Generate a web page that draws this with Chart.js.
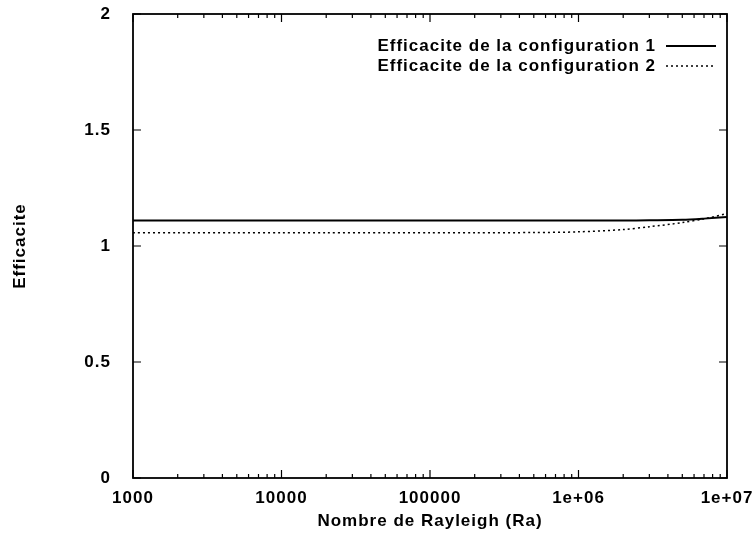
<!DOCTYPE html>
<html>
<head>
<meta charset="utf-8">
<script src="https://cdn.jsdelivr.net/npm/chart.js@4.4.0/dist/chart.umd.min.js"></script>
<style>
  html, body { margin: 0; padding: 0; background: #fff; }
</style>
</head>
<body>
<canvas id="myChart" width="755" height="536"></canvas>
<script>
// Nombre de Rayleigh (x) and efficacite for both configurations
const rayleigh = [1000, 2000, 5000, 10000, 20000, 50000, 100000, 200000, 500000, 1e6, 2e6, 3e6, 5e6, 7e6, 1e7];
const efficacite1 = [1.11, 1.11, 1.11, 1.11, 1.11, 1.11, 1.11, 1.11, 1.11, 1.11, 1.11, 1.111, 1.113, 1.118, 1.125];
const efficacite2 = [1.057, 1.057, 1.057, 1.057, 1.057, 1.057, 1.057, 1.057, 1.058, 1.061, 1.071, 1.083, 1.101, 1.117, 1.14];
const seriesLabels = ["Efficacite de la configuration 1", "Efficacite de la configuration 2"];
const xTicks = [1000, 10000, 100000, 1e6, 1e7];
const xTickLabels = ["1000", "10000", "100000", "1e+06", "1e+07"];
const yTicks = [0, 0.5, 1, 1.5, 2];

const FONT = "'Liberation Sans', Arial, Helvetica, sans-serif";
const fontOpts = { family: FONT, size: 17, weight: 'bold' };

function noOverflow(scale) {
    scale.paddingTop = 0; scale.paddingBottom = 0;
    scale.paddingLeft = 0; scale.paddingRight = 0;
}

// the scanned text is wide, so spread the letters a bit
const spacing = {
    id: 'spacing',
    beforeUpdate(chart) { chart.ctx.letterSpacing = '1px'; },
    beforeDraw(chart) { chart.ctx.letterSpacing = '1px'; }
};

// frame, inward ticks and legend, like the gnuplot output
const gnuplotBits = {
    id: 'gnuplotBits',
    afterDraw(chart) {
        const ctx = chart.ctx;
        const a = chart.chartArea;
        const xs = chart.scales.x, ys = chart.scales.y;
        ctx.save();
        ctx.strokeStyle = '#000';
        ctx.lineWidth = 1.8;
        ctx.strokeRect(a.left, a.top, a.right - a.left, a.bottom - a.top);

        ctx.lineWidth = 1.2;
        ctx.beginPath();
        for (let d = 1000; d <= 1e7; d *= 10) {
            for (let m = 1; m < 10; m++) {
                const v = d * m;
                if (v > 1e7) break;
                const px = xs.getPixelForValue(v);
                const len = m === 1 ? 8 : 4;
                ctx.moveTo(px, a.bottom); ctx.lineTo(px, a.bottom - len);
                ctx.moveTo(px, a.top); ctx.lineTo(px, a.top + len);
            }
        }
        yTicks.forEach(v => {
            const py = ys.getPixelForValue(v);
            ctx.moveTo(a.left, py); ctx.lineTo(a.left + 8, py);
            ctx.moveTo(a.right, py); ctx.lineTo(a.right - 8, py);
        });
        ctx.stroke();

        // legend: text right aligned, line sample to the right
        ctx.font = 'bold 17px ' + FONT;
        ctx.fillStyle = '#000';
        ctx.textAlign = 'right';
        ctx.textBaseline = 'middle';
        const textRight = 656, sx0 = 666, sx1 = 716;
        chart.data.datasets.forEach((ds, i) => {
            const y = 46 + i * 20;
            ctx.fillText(ds.label, textRight, y);
            ctx.beginPath();
            ctx.lineWidth = ds.borderWidth;
            ctx.setLineDash(ds.borderDash || []);
            ctx.moveTo(sx0, y); ctx.lineTo(sx1, y);
            ctx.stroke();
            ctx.setLineDash([]);
        });
        ctx.restore();
    }
};

new Chart(document.getElementById('myChart'), {
    type: 'line',
    data: {
        datasets: [
            {
                label: seriesLabels[0],
                data: rayleigh.map((r, i) => ({ x: r, y: efficacite1[i] })),
                borderColor: '#000',
                borderWidth: 2,
                pointRadius: 0,
                tension: 0.3,
                fill: false
            },
            {
                label: seriesLabels[1],
                data: rayleigh.map((r, i) => ({ x: r, y: efficacite2[i] })),
                borderColor: '#000',
                borderWidth: 1.5,
                borderDash: [2, 3],
                pointRadius: 0,
                tension: 0.3,
                fill: false
            }
        ]
    },
    options: {
        responsive: false,
        animation: false,
        layout: { padding: { top: 14, right: 28, left: 0, bottom: 0 } },
        plugins: {
            legend: { display: false },
            tooltip: { enabled: false }
        },
        scales: {
            x: {
                type: 'logarithmic',
                min: 1000,
                max: 1e7,
                afterFit(scale) { scale.height = 58; noOverflow(scale); },
                afterBuildTicks(scale) { scale.ticks = xTicks.map(v => ({ value: v })); },
                grid: { display: false, drawTicks: false },
                border: { display: false },
                ticks: {
                    autoSkip: false,
                    maxRotation: 0,
                    padding: 10,
                    color: '#000',
                    font: fontOpts,
                    callback: (v) => xTickLabels[xTicks.indexOf(v)] ?? ''
                },
                title: {
                    display: true,
                    text: 'Nombre de Rayleigh (Ra)',
                    color: '#000',
                    font: fontOpts,
                    padding: { top: 0, bottom: 4 }
                }
            },
            y: {
                min: 0,
                max: 2,
                afterFit(scale) { scale.width = 133; noOverflow(scale); },
                afterBuildTicks(scale) { scale.ticks = yTicks.map(v => ({ value: v })); },
                grid: { display: false, drawTicks: false },
                border: { display: false },
                ticks: {
                    padding: 22,
                    color: '#000',
                    font: fontOpts,
                    callback: (v) => String(v)
                },
                title: {
                    display: true,
                    text: 'Efficacite',
                    color: '#000',
                    font: fontOpts,
                    padding: { top: 10, bottom: 0 }
                }
            }
        }
    },
    plugins: [spacing, gnuplotBits]
});
</script>
</body>
</html>
